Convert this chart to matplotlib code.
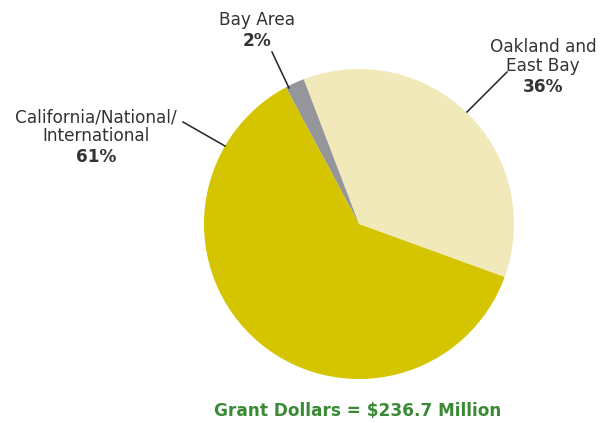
import matplotlib
matplotlib.use("Agg")
from matplotlib import pyplot as plt

# Grant dollars share by region
labels = ["Oakland and\nEast Bay", "Bay Area", "California/National/\nInternational"]
shares = [36, 2, 61]
colors = ["#F1E9B9", "#959699", "#D5C500"]
total_text = "Grant Dollars = $236.7 Million"

W, H = 603, 423
fig = plt.figure(figsize=(W / 100, H / 100), dpi=100)
ax = fig.add_axes([0, 0, 1, 1])

# pie in pixel-like coordinates (y measured from bottom)
cx, cy, r = 359, H - 224, 155
ax.pie(shares, colors=colors, startangle=-20, counterclock=True,
       center=(cx, cy), radius=r, frame=True,
       wedgeprops=dict(linewidth=0))
ax.set_xlim(0, W)
ax.set_ylim(0, H)
ax.set_aspect("equal")
ax.axis("off")

font = "DejaVu Sans"
txt_color = "#333333"

# label positions (x, top line y) and leader lines
label_pos = [(543, 47), (257, 20), (96, 117)]
leaders = [((507, 72), (467, 112)), ((272, 52), (289, 88)), ((183, 122), (225, 146))]

for lab, val, (lx, ly), (p0, p1) in zip(labels, shares, label_pos, leaders):
    lines = lab.split("\n")
    for i, s in enumerate(lines):
        ax.text(lx, H - (ly + i * 19), s, ha="center", va="center",
                fontsize=12.2, color=txt_color, family=font)
    ax.text(lx, H - (ly + len(lines) * 19 + 2), f"{val}%", ha="center", va="center",
            fontsize=12.2, fontweight="bold", color=txt_color, family=font)
    ax.plot([p0[0], p1[0]], [H - p0[1], H - p1[1]], color="#222222", linewidth=1.1)

ax.text(358, H - 411, total_text, ha="center", va="center", fontsize=12.2,
        fontweight="bold", color="#3A8A35", family=font)

fig.savefig("out.png", dpi=100)
